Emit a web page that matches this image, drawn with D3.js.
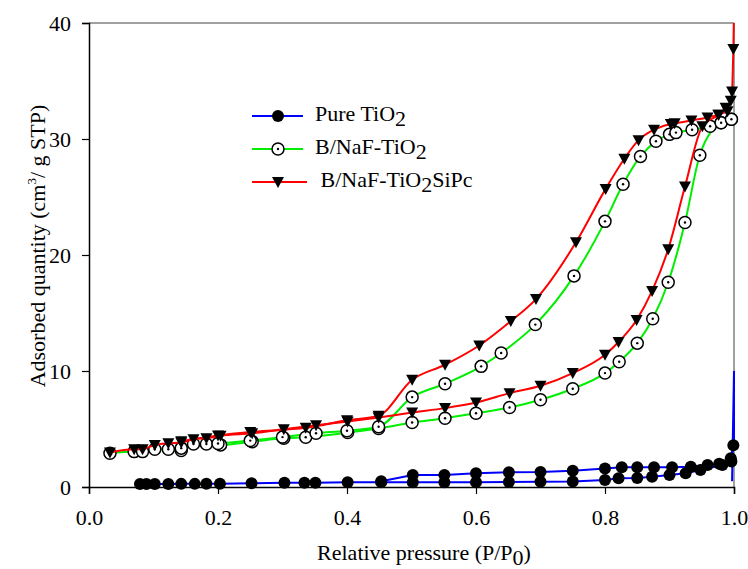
<!DOCTYPE html>
<html>
<head>
<meta charset="utf-8">
<script src="https://cdn.jsdelivr.net/npm/d3@7"></script>
<style>
  body { margin: 0; background: #fff; }
  text { font-family: "Liberation Serif", "Times New Roman", serif; fill: #000; }
</style>
</head>
<body>
<svg width="748" height="569"></svg>
<script>
"use strict";

// tick labels
var xTicks = [0, 0.2, 0.4, 0.6, 0.8, 1.0],
    yTicks = [0, 10, 20, 30, 40];

// Pure TiO2 (adsorption / desorption), [P/P0, quantity]
var pureAds = [[0.079,0.26],[0.089,0.26],[0.102,0.26],[0.123,0.26],[0.143,0.27],[0.164,0.27],
  [0.182,0.28],[0.203,0.28],[0.252,0.33],[0.303,0.36],[0.334,0.37],[0.351,0.37],[0.401,0.40],
  [0.453,0.42],[0.502,0.40],[0.551,0.40],[0.60,0.42],[0.651,0.44],[0.70,0.46],[0.75,0.48],
  [0.80,0.6],[0.821,0.75],[0.85,0.78],[0.873,0.89],[0.90,1.04],[0.925,1.18],[0.948,1.47],
  [0.982,1.9],[0.995,2.48],[0.999,3.6]];
var pureDes = [[0.453,0.5],[0.502,1.04],[0.551,1.04],[0.60,1.18],[0.651,1.27],[0.70,1.3],
  [0.75,1.4],[0.80,1.6],[0.826,1.7],[0.85,1.7],[0.876,1.7],[0.904,1.7],[0.933,1.75],
  [0.959,1.9],[0.977,2.0],[0.996,2.2]];
var pureSpike = [[0.997,0.5],[1.0,10.0],[1.0,3.6]];

// B/NaF-TiO2
var tio2Ads = [[0.0325,2.91],[0.07,3.05],[0.083,3.05],[0.102,3.25],[0.123,3.25],[0.143,3.14],
  [0.162,3.71],[0.182,3.71],[0.204,3.63],[0.253,3.91],[0.302,4.2],[0.336,4.29],[0.401,4.69],
  [0.449,5.04],[0.501,5.56],[0.552,5.93],[0.60,6.36],[0.652,6.85],[0.70,7.52],[0.75,8.47],
  [0.80,9.82],[0.822,10.8],[0.85,12.4],[0.874,14.5],[0.898,17.65],[0.924,22.8],[0.947,28.6],
  [0.98,31.4],[0.996,31.7]];
var tio2Des = [[0.143,3.35],[0.20,3.75],[0.25,4.0],[0.30,4.3],[0.352,4.63],[0.40,4.85],
  [0.449,5.2],[0.501,7.75],[0.552,8.9],[0.608,10.4],[0.639,11.55],[0.692,14.0],[0.752,18.2],
  [0.80,22.9],[0.828,26.1],[0.855,28.5],[0.879,29.8],[0.90,30.4],[0.91,30.55],[0.935,30.8],
  [0.963,31.1],[0.98,31.4],[0.996,31.7]];

// B/NaF-TiO2SiPc
var sipcAds = [[0.0325,2.97],[0.07,3.25],[0.083,3.25],[0.102,3.63],[0.123,3.77],[0.143,3.83],
  [0.162,4.12],[0.182,4.21],[0.204,4.41],[0.253,4.63],[0.302,4.98],[0.352,5.33],[0.401,5.64],
  [0.449,5.99],[0.501,6.42],[0.552,6.80],[0.60,7.28],[0.652,8.09],[0.70,8.73],[0.75,9.82],
  [0.80,11.4],[0.821,12.5],[0.849,14.4],[0.873,16.9],[0.898,20.5],[0.924,25.9],[0.951,31.1],
  [0.976,32.1],[0.987,32.7],[0.995,33.3],[0.997,34.1],[0.999,37.75]];
var sipcDes = [[0.143,3.95],[0.20,4.45],[0.25,4.75],[0.336,5.1],[0.40,5.75],[0.449,6.15],
  [0.501,9.24],[0.552,10.54],[0.605,12.2],[0.654,14.3],[0.693,16.2],[0.755,21.1],[0.801,25.7],
  [0.83,28.3],[0.852,29.9],[0.876,30.8],[0.902,31.3],[0.908,31.35],[0.934,31.6],[0.959,31.85],
  [0.976,32.1],[0.99,32.4]];
var sipcSpike = [[0.999,37.75],[1.0,41]];

var svg = d3.select("svg"),
    plotLeft = 89, plotRight = 734, plotTop = 23, plotBottom = 487,
    fontSize = "22px";

var x = d3.scaleLinear().domain([0, 1]).range([plotLeft, plotRight]),
    y = d3.scaleLinear().domain([0, 40]).range([plotBottom, plotTop]);

svg.append("defs").append("clipPath").attr("id", "plot")
  .append("rect").attr("x", plotLeft - 8).attr("y", plotTop)
  .attr("width", plotRight - plotLeft + 16).attr("height", plotBottom - plotTop + 8);

// frame: top and right in gray
svg.append("line").attr("x1", plotLeft).attr("x2", plotRight).attr("y1", plotTop).attr("y2", plotTop)
  .attr("stroke", "#808080").attr("stroke-width", 1.5);
svg.append("line").attr("x1", plotRight).attr("x2", plotRight).attr("y1", plotTop).attr("y2", plotBottom)
  .attr("stroke", "#808080").attr("stroke-width", 1.5);

var xAxis = svg.append("g").attr("transform", "translate(0," + plotBottom + ")")
  .call(d3.axisBottom(x).tickValues(xTicks).tickFormat(d3.format(".1f")).tickSizeOuter(0).tickSize(7).tickPadding(15));
var yAxis = svg.append("g").attr("transform", "translate(" + plotLeft + ",0)")
  .call(d3.axisLeft(y).tickValues(yTicks).tickSizeOuter(0).tickSize(7).tickPadding(11));
[xAxis, yAxis].forEach(function(a) {
  a.attr("font-family", "Liberation Serif").attr("font-size", 22);
  a.select(".domain").attr("stroke", "#000").attr("stroke-width", 1.5);
  a.selectAll(".tick line").attr("stroke", "#000").attr("stroke-width", 1.2);
  a.selectAll("text").style("font-family", "Liberation Serif").style("font-size", fontSize);
});

// axis titles
var xt = svg.append("text").attr("x", 424).attr("y", 560).attr("text-anchor", "middle")
  .style("font-size", fontSize).text("Relative pressure (P/P");
xt.append("tspan").attr("dy", 5).text("0");
xt.append("tspan").attr("dy", -5).text(")");

var yt = svg.append("text").attr("transform", "translate(45,246) rotate(-90)")
  .attr("text-anchor", "middle").style("font-size", fontSize).text("Adsorbed quantity (cm");
yt.append("tspan").attr("dy", -9).style("font-size", "13px").text("3");
yt.append("tspan").attr("dy", 9).text("/ g STP)");

var line = d3.line().x(d => x(d[0])).y(d => y(d[1])),
    smooth = d3.line().x(d => x(d[0])).y(d => y(d[1])).curve(d3.curveMonotoneX);

var plot = svg.append("g").attr("clip-path", "url(#plot)");

function triangle(g) {
  g.append("path").attr("d", "M-6,-5 L6,-5 L0,6 Z").attr("fill", "#000");
}
function openCircle(g) {
  g.append("circle").attr("r", 6).attr("fill", "#fff").attr("stroke", "#000").attr("stroke-width", 1.5);
  g.append("circle").attr("r", 1.2).attr("fill", "#000");
}
function dot(g) {
  g.append("circle").attr("r", 6).attr("fill", "#000");
}

var series = [
  { branches: [pureAds, pureDes], spike: pureSpike, color: "#0000ff", gen: line, marker: dot },
  { branches: [tio2Ads, tio2Des], spike: null, color: "#00ee00", gen: smooth, marker: openCircle },
  { branches: [sipcAds, sipcDes], spike: sipcSpike, color: "#ff0000", gen: smooth, marker: triangle }
];

series.forEach(function(s) {
  var g = plot.append("g");
  s.branches.forEach(function(b) {
    g.append("path").datum(b).attr("d", s.gen).attr("fill", "none")
      .attr("stroke", s.color).attr("stroke-width", 2);
  });
  if (s.spike) {
    g.append("path").datum(s.spike).attr("d", line).attr("fill", "none")
      .attr("stroke", s.color).attr("stroke-width", 2);
  }
  s.branches.forEach(function(b) {
    g.selectAll(null).data(b).enter().append("g")
      .attr("transform", d => "translate(" + x(d[0]) + "," + y(d[1]) + ")")
      .each(function() { s.marker(d3.select(this)); });
  });
});

// legend
var legendNames = [["Pure TiO", "2", ""], ["B/NaF-TiO", "2", ""], [" B/NaF-TiO", "2", "SiPc"]],
    legendY = [116, 149, 182];

series.forEach(function(s, i) {
  var g = svg.append("g").attr("transform", "translate(0," + legendY[i] + ")");
  g.append("line").attr("x1", 252).attr("x2", i === 2 ? 307 : 303).attr("y1", 0).attr("y2", 0)
    .attr("stroke", s.color).attr("stroke-width", 2);
  s.marker(g.append("g").attr("transform", "translate(278,0)"));
  var t = g.append("text").attr("x", 315).attr("y", 5).style("font-size", fontSize)
    .style("white-space", "pre").text(legendNames[i][0]);
  t.append("tspan").attr("dy", 5).text(legendNames[i][1]);
  if (legendNames[i][2]) t.append("tspan").attr("dy", -5).text(legendNames[i][2]);
});
</script>
</body>
</html>
